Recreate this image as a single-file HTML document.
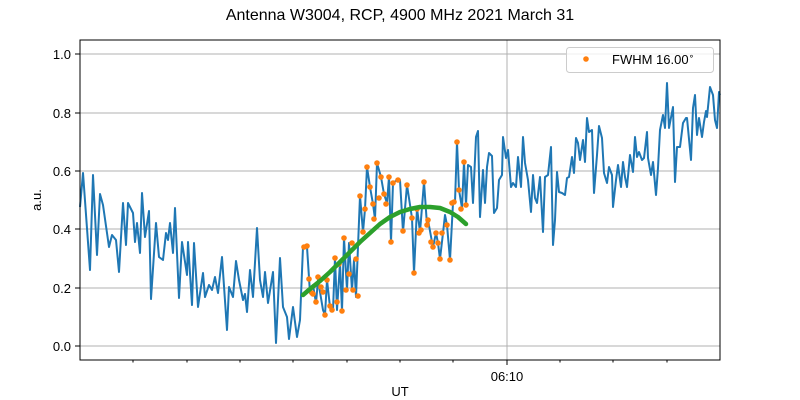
<!DOCTYPE html>
<html><head><meta charset="utf-8"><style>body{margin:0;background:#fff}svg{display:block}text{font-family:"Liberation Sans","DejaVu Sans",sans-serif;fill:#000}</style></head><body>
<svg width="800" height="400" xmlns="http://www.w3.org/2000/svg">
<text x="400" y="20" font-size="16" text-anchor="middle">Antenna W3004, RCP, 4900 MHz 2021 March 31</text>
<g stroke="#b0b0b0" stroke-width="1">
<line x1="80" x2="720" y1="346" y2="346"/><line x1="80" x2="720" y1="288" y2="288"/><line x1="80" x2="720" y1="229" y2="229"/><line x1="80" x2="720" y1="171" y2="171"/><line x1="80" x2="720" y1="113" y2="113"/><line x1="80" x2="720" y1="54" y2="54"/>
<line x1="507" x2="507" y1="40" y2="360"/>
</g>
<polyline fill="none" stroke="#1f77b4" stroke-width="2" stroke-linejoin="round" points="80,207 83,173 90,270 93,175 97,255 100,194 103,205 109,247 112,235 116,240 119,272 123,203 126,245 128,203 133,213 135,242 137,223 140,253 142,193 145,237 149,211 151,299 156,223 159,257 163,260 166,233 168,240 170,223 173,253 175,208 179,298 182,242 187,275 188,242 192,305 194,243 198,307 203,273 205,297 209,285 212,290 215,277 218,293 222,257 227,330 229,287 233,297 236,261 239,280 243,300 245,294 247,312 250,270 253,297 257,228 260,280 263,297 265,272 268,303 273,272 276,343 280,258 283,307 287,317 289,339 293,307 297,337 300,320 303,247 307,247 310,293 313,285 316,303 318,280 323,310 325,315 327,280 330,307 333,310 335,258 337,310 340,263 342,311 344,238 347,290 349,243 352,290 354,260 356,297 360,196 363,232 365,209 367,167 370,187 373,204 375,219 377,163 381,177 384,194 387,203 389,177 391,242 393,183 397,180 400,180 403,232 407,185 412,218 414,273 417,208 420,232 424,182 427,225 428,220 432,242 433,247 436,233 438,243 440,259 443,233 445,215 447,225 450,260 453,203 455,202 457,142 459,190 462,208 464,162 466,205 468,165 471,167 473,203 476,137 478,131 480,217 483,170 485,203 487,167 489,153 492,156 494,213 497,208 499,180 502,175 503,137 506,158 508,150 511,187 513,183 516,187 518,157 521,187 523,137 525,163 528,180 531,212 533,175 535,198 537,203 540,177 543,232 545,177 548,175 551,147 553,245 555,220 557,172 559,192 562,193 565,195 567,178 569,177 572,157 574,173 576,138 578,143 580,160 583,140 585,162 587,118 589,132 592,130 594,193 597,155 599,126 602,138 604,173 607,183 609,167 612,175 613,207 616,180 618,165 621,187 623,162 625,177 627,187 630,155 633,172 635,137 637,157 639,152 642,160 644,158 647,132 648,158 651,175 653,162 656,195 658,168 660,130 663,115 665,128 667,83 669,128 673,107 675,182 677,147 680,147 683,123 686,118 687,118 691,160 693,108 695,95 697,135 699,118 702,137 704,122 706,111 707,117 710,87 713,95 715,120 717,128 719,92 720,95"/>
<g fill="#ff7f0e">
<circle cx="304" cy="247" r="2.8"/><circle cx="307" cy="246" r="2.8"/><circle cx="309" cy="279" r="2.8"/><circle cx="312" cy="293" r="2.8"/><circle cx="313" cy="294" r="2.8"/><circle cx="316" cy="302" r="2.8"/><circle cx="318" cy="277" r="2.8"/><circle cx="321" cy="287" r="2.8"/><circle cx="323" cy="292" r="2.8"/><circle cx="325" cy="315" r="2.8"/><circle cx="327" cy="280" r="2.8"/><circle cx="330" cy="306" r="2.8"/><circle cx="332" cy="310" r="2.8"/><circle cx="335" cy="258" r="2.8"/><circle cx="337" cy="302" r="2.8"/><circle cx="339" cy="264" r="2.8"/><circle cx="342" cy="311" r="2.8"/><circle cx="344" cy="238" r="2.8"/><circle cx="346" cy="290" r="2.8"/><circle cx="349" cy="274" r="2.8"/><circle cx="352" cy="243" r="2.8"/><circle cx="353" cy="290" r="2.8"/><circle cx="356" cy="259" r="2.8"/><circle cx="358" cy="296" r="2.8"/><circle cx="360" cy="196" r="2.8"/><circle cx="363" cy="232" r="2.8"/><circle cx="365" cy="209" r="2.8"/><circle cx="367" cy="167" r="2.8"/><circle cx="370" cy="187" r="2.8"/><circle cx="373" cy="204" r="2.8"/><circle cx="374" cy="219" r="2.8"/><circle cx="377" cy="163" r="2.8"/><circle cx="379" cy="198" r="2.8"/><circle cx="381" cy="177" r="2.8"/><circle cx="384" cy="194" r="2.8"/><circle cx="386" cy="204" r="2.8"/><circle cx="389" cy="177" r="2.8"/><circle cx="391" cy="242" r="2.8"/><circle cx="393" cy="183" r="2.8"/><circle cx="398" cy="180" r="2.8"/><circle cx="403" cy="231" r="2.8"/><circle cx="407" cy="185" r="2.8"/><circle cx="412" cy="218" r="2.8"/><circle cx="414" cy="273" r="2.8"/><circle cx="417" cy="209" r="2.8"/><circle cx="419" cy="233" r="2.8"/><circle cx="421" cy="230" r="2.8"/><circle cx="424" cy="182" r="2.8"/><circle cx="427" cy="225" r="2.8"/><circle cx="428" cy="220" r="2.8"/><circle cx="431" cy="242" r="2.8"/><circle cx="433" cy="247" r="2.8"/><circle cx="436" cy="233" r="2.8"/><circle cx="438" cy="243" r="2.8"/><circle cx="440" cy="259" r="2.8"/><circle cx="442" cy="233" r="2.8"/><circle cx="447" cy="225" r="2.8"/><circle cx="450" cy="260" r="2.8"/><circle cx="452" cy="203" r="2.8"/><circle cx="454" cy="202" r="2.8"/><circle cx="457" cy="142" r="2.8"/><circle cx="459" cy="190" r="2.8"/><circle cx="461" cy="209" r="2.8"/><circle cx="464" cy="162" r="2.8"/><circle cx="466" cy="205" r="2.8"/>
</g>
<polyline points="303,295 310,289 320,281 330,272 340,262 350,252 360,242 370,233 380,224 390,217 400,212 410,209 420,207 430,207 440,208 450,212 458,217 466,224" fill="none" stroke="#2ca02c" stroke-width="4.5" stroke-linecap="round" stroke-linejoin="round"/>
<rect x="80" y="40" width="640" height="320" fill="none" stroke="#000" stroke-width="1"/>
<g stroke="#000" stroke-width="1">
<line x1="75" x2="80" y1="346" y2="346"/><line x1="75" x2="80" y1="288" y2="288"/><line x1="75" x2="80" y1="229" y2="229"/><line x1="75" x2="80" y1="171" y2="171"/><line x1="75" x2="80" y1="113" y2="113"/><line x1="75" x2="80" y1="54" y2="54"/>
<line x1="507" x2="507" y1="360" y2="365"/>
<line x1="133" x2="133" y1="360" y2="362.5"/><line x1="187" x2="187" y1="360" y2="362.5"/><line x1="240" x2="240" y1="360" y2="362.5"/><line x1="293" x2="293" y1="360" y2="362.5"/><line x1="347" x2="347" y1="360" y2="362.5"/><line x1="400" x2="400" y1="360" y2="362.5"/><line x1="453" x2="453" y1="360" y2="362.5"/><line x1="560" x2="560" y1="360" y2="362.5"/><line x1="613" x2="613" y1="360" y2="362.5"/><line x1="667" x2="667" y1="360" y2="362.5"/>
</g>
<g font-size="13" text-anchor="end">
<text x="71" y="351">0.0</text><text x="71" y="293">0.2</text><text x="71" y="234">0.4</text><text x="71" y="176">0.6</text><text x="71" y="118">0.8</text><text x="71" y="59">1.0</text>
</g>
<text x="507" y="381" font-size="13" text-anchor="middle">06:10</text>
<text x="400" y="400" font-size="13" text-anchor="middle" dy="-4">UT</text>
<text x="0" y="0" font-size="13" text-anchor="middle" transform="translate(41,200) rotate(-90)">a.u.</text>
<rect x="566.5" y="47.5" width="147" height="25" rx="3" fill="#fff" fill-opacity="0.8" stroke="#ccc"/>
<circle cx="586" cy="59" r="2.8" fill="#ff7f0e"/>
<text x="612" y="64" font-size="13">FWHM 16.00<tspan font-size="9" dy="-5">∘</tspan></text>
</svg>
</body></html>
